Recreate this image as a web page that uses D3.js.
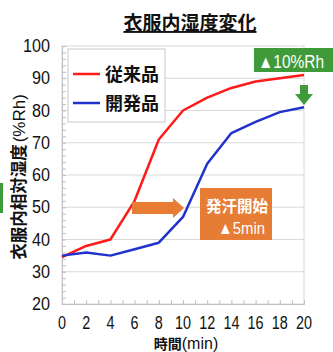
<!DOCTYPE html>
<html>
<head>
<meta charset="utf-8">
<script src="https://cdn.jsdelivr.net/npm/d3@7"></script>
<style>
  body { margin: 0; background: #fff; }
  svg { display: block; }
  .num { font-family: "Liberation Sans", Arial, sans-serif; }
  .jp { font-family: "Noto Sans CJK JP", sans-serif; font-weight: bold; }
</style>
</head>
<body>
<div id="chart"></div>
<script>
// chart data
const minutes = [0, 2, 4, 6, 8, 10, 12, 14, 16, 18, 20];
const conventional = [34.5, 38, 40, 52, 71, 80, 84, 87, 89, 90, 91];
const developed = [35, 36, 35, 37, 39, 47, 63.5, 73, 76.5, 79.5, 81];
const seriesNames = ['従来品', '開発品'];
const yTicks = [20, 30, 40, 50, 60, 70, 80, 90, 100];
const xTicks = [0, 2, 4, 6, 8, 10, 12, 14, 16, 18, 20];

const width = 333, height = 352;
const plotL = 62, plotR = 304, plotT = 46, plotB = 304;

const svg = d3.select('#chart').append('svg')
    .attr('width', width)
    .attr('height', height);

const x = d3.scaleLinear().domain([0, 20]).range([plotL, plotR]);
const y = d3.scaleLinear().domain([20, 100]).range([plotB, plotT]);

// small green marker on the left edge
svg.append('rect').attr('x', 0).attr('y', 183).attr('width', 3).attr('height', 30).attr('fill', '#3f9b3a');

// title
svg.append('text')
    .attr('class', 'jp')
    .attr('x', 190).attr('y', 30)
    .attr('text-anchor', 'middle')
    .attr('font-size', 19)
    .attr('text-decoration', 'underline')
    .attr('fill', '#111')
    .text('衣服内湿度変化');

// gridlines
svg.append('g').selectAll('line')
    .data(yTicks.slice(1, -1))
    .enter().append('line')
    .attr('x1', plotL).attr('x2', plotR)
    .attr('y1', d => y(d)).attr('y2', d => y(d))
    .attr('stroke', '#d9d9d9').attr('stroke-width', 1);

// plot frame
svg.append('rect')
    .attr('x', plotL).attr('y', y(100))
    .attr('width', plotR - plotL).attr('height', plotB - y(100))
    .attr('fill', 'none').attr('stroke', '#d9d9d9');

// axes
const yAxis = svg.append('g')
    .attr('transform', `translate(${plotL},0)`)
    .call(d3.axisLeft(y).tickValues(d3.range(20, 101, 2)).tickSize(-4).tickFormat(''));
const xAxis = svg.append('g')
    .attr('transform', `translate(0,${plotB})`)
    .call(d3.axisBottom(x).tickValues(d3.range(0, 21, 1)).tickSize(-4).tickFormat(''));
[yAxis, xAxis].forEach(g => {
    g.select('.domain').attr('stroke', '#bfbfbf');
    g.selectAll('.tick line').attr('stroke', '#bfbfbf');
});

// tick labels
svg.append('g').selectAll('text')
    .data(yTicks)
    .enter().append('text')
    .attr('class', 'num')
    .attr('x', 50).attr('y', d => y(d) + 6)
    .attr('text-anchor', 'end')
    .attr('font-size', 18)
    .attr('fill', '#111')
    .attr('textLength', d => String(d).length * 9)
    .attr('lengthAdjust', 'spacingAndGlyphs')
    .text(d => d);
svg.append('g').selectAll('text')
    .data(xTicks)
    .enter().append('text')
    .attr('class', 'num')
    .attr('x', d => x(d)).attr('y', 329)
    .attr('text-anchor', 'middle')
    .attr('font-size', 18)
    .attr('fill', '#111')
    .attr('textLength', d => String(d).length * 8)
    .attr('lengthAdjust', 'spacingAndGlyphs')
    .text(d => d);

// axis titles
const xt = svg.append('text')
    .attr('x', 186).attr('y', 349)
    .attr('text-anchor', 'middle')
    .attr('fill', '#111');
xt.append('tspan').attr('class', 'jp').attr('font-size', 14).text('時間');
xt.append('tspan').attr('class', 'num').attr('font-size', 16).text('(min)');

const yt = svg.append('text')
    .attr('transform', 'translate(25,177) rotate(-90)')
    .attr('text-anchor', 'middle')
    .attr('fill', '#111');
yt.append('tspan').attr('class', 'jp').attr('font-size', 16.5).text('衣服内相対湿度');
yt.append('tspan').attr('class', 'num').attr('font-size', 17).attr('dx', 2).text('(%Rh)');

// lines
const line = d3.line().x((d, i) => x(minutes[i])).y(d => y(d));
[[conventional, '#ff1a1a'], [developed, '#1f33cc']].forEach(([vals, col]) => {
    svg.append('path')
        .datum(vals)
        .attr('d', line)
        .attr('fill', 'none')
        .attr('stroke', col)
        .attr('stroke-width', 2.5)
        .attr('stroke-linejoin', 'round');
});

// legend
svg.append('rect')
    .attr('x', 68).attr('y', 49).attr('width', 97).attr('height', 73)
    .attr('fill', '#fff').attr('stroke', '#c8c8c8');
const legendColors = ['#ff1a1a', '#1f33cc'];
seriesNames.forEach((name, i) => {
    const ly = 74 + i * 29;
    svg.append('line')
        .attr('x1', 73).attr('x2', 100).attr('y1', ly).attr('y2', ly)
        .attr('stroke', legendColors[i]).attr('stroke-width', 2.5);
    svg.append('text')
        .attr('class', 'jp')
        .attr('x', 105).attr('y', ly + 7)
        .attr('font-size', 18)
        .attr('fill', '#111')
        .text(name);
});

// green callout
svg.append('rect').attr('x', 254).attr('y', 48).attr('width', 79).attr('height', 24).attr('fill', '#3f9b3a');
svg.append('text')
    .attr('class', 'num')
    .attr('transform', 'translate(258,68) scale(0.86,1)')
    .attr('font-size', 18)
    .attr('fill', '#fff')
    .text('▲10%Rh');
const gx = x(20);
svg.append('path')
    .attr('d', `M${gx - 4},85 L${gx + 4},85 L${gx + 4},94 L${gx + 9},94 L${gx},105 L${gx - 9},94 L${gx - 4},94 Z`)
    .attr('fill', '#3f9b3a');

// orange arrow and callout
svg.append('path')
    .attr('d', 'M132,202 L173,202 L173,198 L184,208 L173,218 L173,214 L132,214 Z')
    .attr('fill', '#e77c34');
svg.append('rect').attr('x', 200).attr('y', 188).attr('width', 72).attr('height', 52).attr('fill', '#e77c34');
svg.append('text')
    .attr('class', 'jp')
    .attr('x', 237).attr('y', 212)
    .attr('text-anchor', 'middle')
    .attr('font-size', 15.5)
    .attr('fill', '#fff')
    .text('発汗開始');
svg.append('text')
    .attr('class', 'num')
    .attr('x', 218).attr('y', 234)
    .attr('font-size', 17)
    .attr('fill', '#fff')
    .attr('textLength', 47)
    .attr('lengthAdjust', 'spacingAndGlyphs')
    .text('▲5min');
</script>
</body>
</html>
